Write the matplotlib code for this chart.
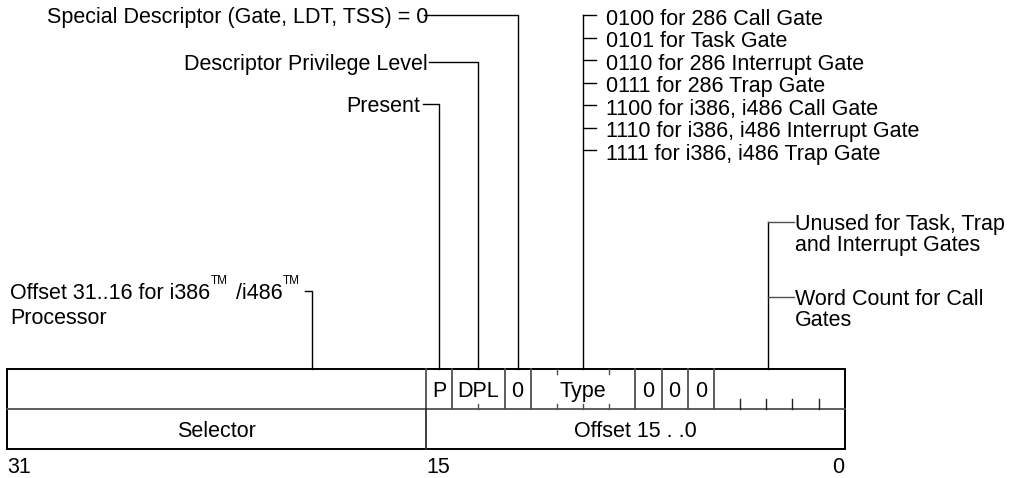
import matplotlib
matplotlib.use("Agg")
import matplotlib.pyplot as plt

W, H, DPI = 1017, 478, 100
FONT = "Liberation Sans"
FS = 15.5

# ---------------- data ----------------
# bit boundaries (32 = left edge of bit 31, 0 = right edge of bit 0)
bit_label_pos = [32, 16, 0]
bit_labels = ["31", "15", "0"]

# upper row of the gate descriptor (high dword)
top_names = ["", "P", "DPL", "0", "Type", "0", "0", "0", ""]
top_hi = [32, 16, 15, 13, 12, 8, 7, 6, 5]
top_lo = [16, 15, 13, 12, 8, 7, 6, 5, 0]

# lower row (low dword)
bottom_names = ["Selector", "Offset 15 . .0"]
bottom_hi = [32, 16]
bottom_lo = [16, 0]

# small bit-boundary ticks inside fields
ticks_top_edge = [11, 9]
ticks_bottom_short = [14, 11, 10, 9]
ticks_bottom_long = [4, 3, 2, 1]

# labels for single fields with leader lines
field_labels = ["Special Descriptor (Gate, LDT, TSS) = 0",
                "Descriptor Privilege Level",
                "Present"]
field_label_bits = [12.5, 14, 15.5]

type_codes = ["0100 for 286 Call Gate",
              "0101 for Task Gate",
              "0110 for 286 Interrupt Gate",
              "0111 for 286 Trap Gate",
              "1100 for i386, i486 Call Gate",
              "1110 for i386, i486 Interrupt Gate",
              "1111 for i386, i486 Trap Gate"]
type_bit = 10

count_labels = [["Unused for Task, Trap", "and Interrupt Gates"],
                ["Word Count for Call", "Gates"]]
count_bit = 2.95

offset_label = ["Offset 31..16 for i386", "TM", "  /i486", "TM", "Processor"]
offset_bit = 20.35

# ---------------- layout ----------------
X_LEFT_PX, X_RIGHT_PX = 7.3, 844.7          # pixel x of bit 32 / bit 0
Y_TOP, Y_MID, Y_BOT = 369, 409, 449          # pixel y of the box rows

fig = plt.figure(figsize=(W / DPI, H / DPI), dpi=DPI)
ax = fig.add_axes([0, 0, 1, 1])
per_bit = (X_RIGHT_PX - X_LEFT_PX) / 32.0
ax.set_xlim(32 + X_LEFT_PX / per_bit, 32 - (W - X_LEFT_PX) / per_bit)
ax.set_ylim(H, 0)
ax.axis("off")


def bx(px):
    """bit coordinate of an image pixel column (via the axes transform)"""
    return ax.transData.inverted().transform((px, 0))[0]


def px_of(b):
    return ax.transData.transform((b, 0))[0]


txt = dict(fontfamily=FONT, fontsize=FS, color="black")
CAP = 0.716 * FS * DPI / 72.0


def label(xpix, ycenter, s, ha="left", **kw):
    d = dict(txt)
    d.update(kw)
    return ax.text(bx(xpix), ycenter + CAP / 2, s, ha=ha, va="baseline", **d)


LW_BOX = 1.4
LW_IN = 1.3
LW_LEAD = 1.0
GREY = "#505050"

# ---- box ----
ax.plot([32, 0, 0, 32, 32], [Y_TOP, Y_TOP, Y_BOT, Y_BOT, Y_TOP],
        color="black", lw=LW_BOX, solid_joinstyle="miter")
ax.plot([32, 0], [Y_MID, Y_MID], color=GREY, lw=LW_IN)
for hi, lo, name in zip(top_hi, top_lo, top_names):
    if hi != 32:
        ax.plot([hi, hi], [Y_TOP, Y_MID], color=GREY, lw=LW_IN)
    if name:
        ax.text((hi + lo) / 2, (Y_TOP + Y_MID) / 2 + CAP / 2, name,
                ha="center", va="baseline", **txt)
for hi, lo, name in zip(bottom_hi, bottom_lo, bottom_names):
    if hi != 32:
        ax.plot([hi, hi], [Y_MID, Y_BOT], color="#303030", lw=LW_IN)
    ax.text((hi + lo) / 2, (Y_MID + Y_BOT) / 2 + CAP / 2, name,
            ha="center", va="baseline", **txt)
for b in ticks_top_edge:
    ax.plot([b, b], [Y_TOP, Y_TOP + 5], color=GREY, lw=LW_LEAD)
for b in ticks_bottom_short:
    ax.plot([b, b], [Y_MID, Y_MID - 5], color=GREY, lw=LW_LEAD)
for b in ticks_bottom_long:
    ax.plot([b, b], [Y_MID, Y_MID - 10], color="#202020", lw=LW_LEAD)

# bit numbers
for b, s in zip(bit_label_pos, bit_labels):
    ha = "right" if b == 0 else "left"
    ax.text(b, 465 + CAP / 2, s, ha=ha, va="baseline", **txt)

# ---- single-field leaders ----
lead_y = [15, 62, 104]
text_right = [428, 428, 420]
line_start = [424, 429, 423]
for s, b, y, xr, xs in zip(field_labels, field_label_bits, lead_y, text_right, line_start):
    label(xr, y, s, ha="right")
    ax.plot([bx(xs), b, b], [y, y, Y_TOP], color="black", lw=LW_LEAD)

# ---- type leader ----
ty0, tstep = 15, 22.5
ys = [ty0 + i * tstep for i in range(len(type_codes))]
ax.plot([type_bit, type_bit], [ys[0], Y_TOP], color="black", lw=LW_LEAD)
for y, s in zip(ys, type_codes):
    ax.plot([type_bit, bx(px_of(type_bit) + 13)], [y, y], color="black", lw=LW_LEAD)
    label(px_of(type_bit) + 23, y + 2, s)

# ---- word count leader ----
cy = [222, 297]
ax.plot([count_bit, count_bit], [cy[0], Y_TOP], color="black", lw=LW_LEAD)
for y, lines in zip(cy, count_labels):
    ax.plot([count_bit, bx(px_of(count_bit) + 26)], [y, y], color=GREY, lw=LW_LEAD)
    for k, s in enumerate(lines):
        label(px_of(count_bit) + 27, y + 21 * k, s)

# ---- offset 31..16 leader ----
oy = 291
fig.canvas.draw()
r = fig.canvas.get_renderer()
small = dict(txt)
small["fontsize"] = 8.5
t1 = label(10, oy, offset_label[0])
e = t1.get_window_extent(r)
tm1 = ax.text(bx(e.x1 + 0.5), oy - 7, offset_label[1], ha="left", va="baseline", **small)
e2 = tm1.get_window_extent(r)
t2 = label(e2.x1 - 4, oy, offset_label[2])
e3 = t2.get_window_extent(r)
tm2 = ax.text(bx(e3.x1 + 0.5), oy - 7, offset_label[3], ha="left", va="baseline", **small)
e4 = tm2.get_window_extent(r)
label(10, oy + 25, offset_label[4])
start = max(285.7, e4.x1 + 5)
ax.plot([bx(start), offset_bit, offset_bit], [oy, oy, Y_TOP], color="black", lw=LW_LEAD)

fig.savefig("out.png", dpi=DPI)
